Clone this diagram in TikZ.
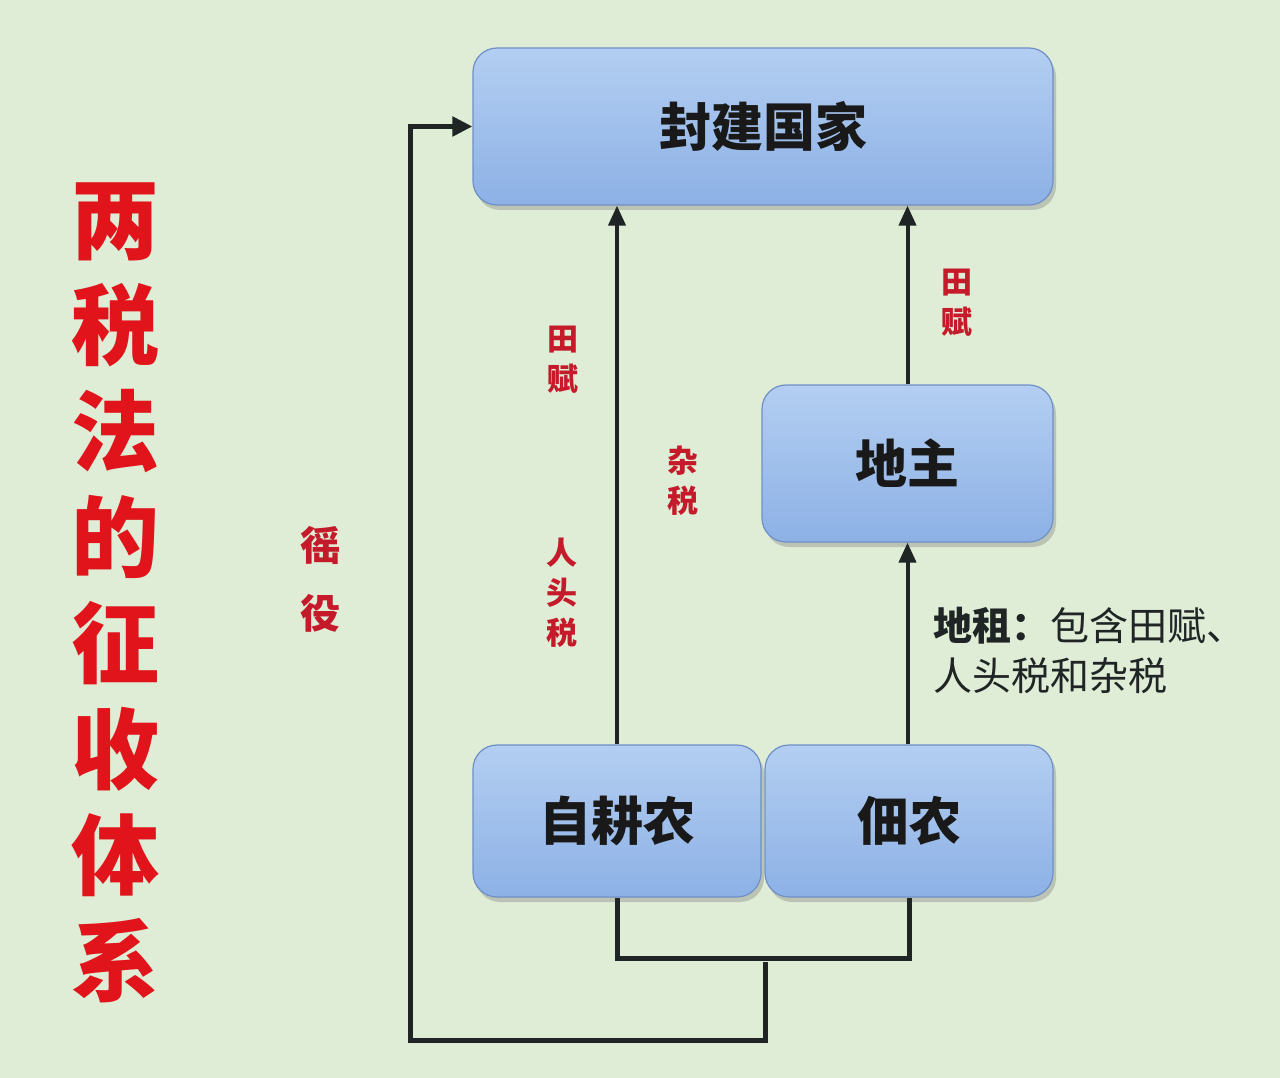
\documentclass[tikz,border=0pt]{standalone}
\usepackage{fontspec}
\newfontfamily\cjk{Noto Sans CJK SC}
\usetikzlibrary{arrows.meta,shadows}
\definecolor{bg}{HTML}{DFECD6}
\definecolor{boxtop}{HTML}{B3CEF1}
\definecolor{boxbot}{HTML}{8DB1E6}
\definecolor{boxline}{HTML}{6F90C6}
\definecolor{lab}{HTML}{C41A2A}
\definecolor{ttl}{HTML}{E0141A}
\definecolor{ln}{HTML}{1F2424}
\tikzset{
  box/.style={draw=boxline, line width=1.2pt, rounded corners=24pt,
    top color=boxtop, bottom color=boxbot, inner sep=0pt,
    font=\cjk\bfseries\fontsize{52}{56}\selectfont, text=black!90,
    drop shadow={shadow xshift=3pt, shadow yshift=-5pt, opacity=0.3, fill=black!60}},
  arr/.style={draw=ln, line width=4pt, -{Triangle[length=20pt,width=17pt]}},
  brk/.style={draw=ln, line width=5pt},
  redlab/.style={text=lab, font=\cjk\bfseries\fontsize{31}{40}\selectfont, align=center, inner sep=0pt},
  titlelab/.style={text=ttl, font=\cjk\bfseries\fontsize{88}{106}\selectfont, align=center, inner sep=0pt},
  note/.style={text=ln, font=\cjk\fontsize{39}{50}\selectfont, align=left, inner sep=0pt, anchor=west}
}
\begin{document}
\begin{tikzpicture}[x=1pt,y=-1pt]
\fill[bg] (0,0) rectangle (1280,1078);
\useasboundingbox (0,0) rectangle (1280,1078);

\node[box, minimum width=580pt, minimum height=157pt] (fj) at (763,126.5) {封建国家};
\node[box, minimum width=291pt, minimum height=157pt] (dz) at (907.5,463.5) {地主};
\node[box, minimum width=288pt, minimum height=152pt] (zgn) at (617,821) {自耕农};
\node[box, minimum width=288pt, minimum height=152pt] (dn) at (909,821) {佃农};

\draw[arr] (zgn.north) -- (zgn.north |- fj.south);
\draw[arr] (dn.north -| dz.south) -- (dz.south);
\draw[arr] (dz.north) -- (dz.north |- fj.south);

\coordinate (m) at (765,962);
\coordinate (bl) at (410,1040);
\draw[brk] (zgn.south) -- ++(0,61) -| (dn.south);
\draw[brk, -{Triangle[length=20pt,width=19pt]}] (m) |- (bl) |- (fj.west);

\node[redlab] (t1) at (563,360) {田\\赋};
\node[redlab] (t2) at (562,593) {人\\头\\税};
\node[redlab] (t3) at (683,481) {杂\\税};
\node[redlab] (t4) at (957,303) {田\\赋};
\node[redlab, font=\cjk\bfseries\fontsize{40}{68}\selectfont] (t5) at (320,579) {徭\\役};

\node[note] (nt) at (933,650) {{\bfseries 地租：}包含田赋、\\人头税和杂税};

\node[titlelab] (ttl) at (115,593) {两\\税\\法\\的\\征\\收\\体\\系};
\end{tikzpicture}
\end{document}
